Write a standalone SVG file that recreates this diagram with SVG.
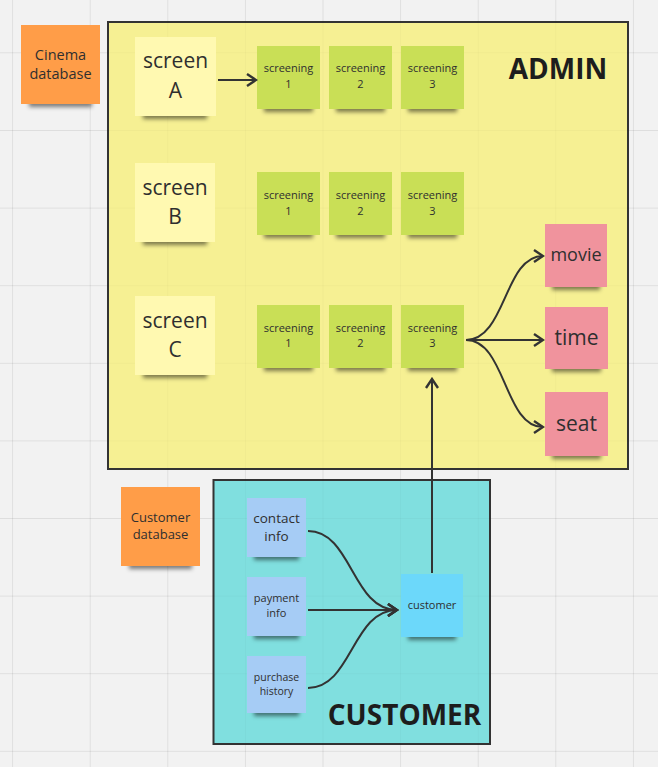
<svg xmlns="http://www.w3.org/2000/svg" width="658" height="767" viewBox="0 0 658 767">
<style>
  text { font-family: "Open Sans", "Noto Sans", "DejaVu Sans", sans-serif; fill: #2f2f2f; text-anchor: middle; }
  .grid line { stroke: #000; stroke-width: 1; }
  .frame { stroke: #333; stroke-width: 2; }
  .shadow { fill: #000; fill-opacity: 0.5; filter: url(#blur); }
  .conn { fill: none; stroke: #333; stroke-width: 2; marker-end: url(#arr); }
  .title { font-weight: 700; fill: #1d1d1d; font-size: 28px; }
  .orange { fill: #ff9d48; }
  .lyellow { fill: #fff9b1; }
  .green { fill: #c9df56; }
  .red { fill: #f0939d; }
  .lblue { fill: #a6ccf5; }
  .blue { fill: #6cd8fa; }
</style>
<defs>
  <filter id="blur" x="-20%" y="-100%" width="140%" height="300%">
    <feGaussianBlur stdDeviation="2.2"/>
  </filter>
  <marker id="arr" markerUnits="userSpaceOnUse" markerWidth="14" markerHeight="14" viewBox="-12 -7 14 14" refX="0" refY="0" orient="auto">
    <path d="M-9,-6 L0,0 L-9,6" fill="none" stroke="#333" stroke-width="2.4" stroke-linejoin="miter"/>
  </marker>
  <g id="gridlines">
    <line x1="12.6" y1="0" x2="12.6" y2="767"/>
    <line x1="90.2" y1="0" x2="90.2" y2="767"/>
    <line x1="167.8" y1="0" x2="167.8" y2="767"/>
    <line x1="245.4" y1="0" x2="245.4" y2="767"/>
    <line x1="323" y1="0" x2="323" y2="767"/>
    <line x1="400.6" y1="0" x2="400.6" y2="767"/>
    <line x1="478.2" y1="0" x2="478.2" y2="767"/>
    <line x1="555.8" y1="0" x2="555.8" y2="767"/>
    <line x1="633.4" y1="0" x2="633.4" y2="767"/>
    <line x1="0" y1="52.8" x2="658" y2="52.8"/>
    <line x1="0" y1="130.5" x2="658" y2="130.5"/>
    <line x1="0" y1="208.1" x2="658" y2="208.1"/>
    <line x1="0" y1="285.7" x2="658" y2="285.7"/>
    <line x1="0" y1="363.3" x2="658" y2="363.3"/>
    <line x1="0" y1="440.9" x2="658" y2="440.9"/>
    <line x1="0" y1="518.5" x2="658" y2="518.5"/>
    <line x1="0" y1="596.1" x2="658" y2="596.1"/>
    <line x1="0" y1="673.7" x2="658" y2="673.7"/>
    <line x1="0" y1="751.3" x2="658" y2="751.3"/>
  </g>
</defs>

<rect x="0" y="0" width="658" height="767" fill="#f2f2f2"/>
<g class="grid" stroke-opacity="0.055"><use href="#gridlines" stroke="#000" stroke-opacity="0.055"/></g>

<!-- frames -->
<g id="admin-frame">
  <rect class="frame" x="108" y="22" width="520" height="447" fill="#f6f093"/>
</g>
<g id="customer-frame">
  <rect class="frame" x="213.5" y="480" width="276.5" height="264" fill="#80dfdf"/>
</g>
<g class="grid"><use href="#gridlines" stroke="#000" stroke-opacity="0.022"/></g>

<text class="title" x="558" y="79">ADMIN</text>
<text class="title" x="404.5" y="725">CUSTOMER</text>

<!-- nodes -->
<g id="cinema-db">
  <rect class="shadow" x="29" y="100" width="63" height="7"/>
  <rect class="orange" x="21" y="25" width="79" height="79"/>
  <text x="60.5" y="59.5" font-size="14.5">Cinema</text>
  <text x="60.5" y="79" font-size="14.5">database</text>
</g>
<g id="customer-db">
  <rect class="shadow" x="129" y="562" width="63" height="7"/>
  <rect class="orange" x="121" y="487" width="79" height="79"/>
  <text x="160.5" y="521.5" font-size="13">Customer</text>
  <text x="160.5" y="539" font-size="13">database</text>
</g>

<g id="screen-a">
  <rect class="shadow" x="143" y="112" width="64" height="7"/>
  <rect class="lyellow" x="135" y="37" width="81" height="79"/>
  <text x="175.5" y="68" font-size="21">screen</text>
  <text x="175.5" y="98" font-size="21">A</text>
</g>
<g id="screen-b">
  <rect class="shadow" x="143" y="238" width="64" height="7"/>
  <rect class="lyellow" x="135" y="163" width="80" height="79"/>
  <text x="175" y="195" font-size="21">screen</text>
  <text x="175" y="224" font-size="21">B</text>
</g>
<g id="screen-c">
  <rect class="shadow" x="143" y="371" width="64" height="7"/>
  <rect class="lyellow" x="135" y="296" width="80" height="79"/>
  <text x="175" y="328" font-size="21">screen</text>
  <text x="175" y="357" font-size="21">C</text>
</g>

<g id="a-screening-1">
  <rect class="shadow" x="264" y="105" width="49" height="7"/>
  <rect class="green" x="257" y="46" width="63" height="63"/>
  <text x="288.5" y="72" font-size="11">screening</text>
  <text x="288.5" y="88" font-size="11">1</text>
</g>
<g id="a-screening-2">
  <rect class="shadow" x="336" y="105" width="49" height="7"/>
  <rect class="green" x="329" y="46" width="63" height="63"/>
  <text x="360.5" y="72" font-size="11">screening</text>
  <text x="360.5" y="88" font-size="11">2</text>
</g>
<g id="a-screening-3">
  <rect class="shadow" x="408" y="105" width="49" height="7"/>
  <rect class="green" x="401" y="46" width="63" height="63"/>
  <text x="432.5" y="72" font-size="11">screening</text>
  <text x="432.5" y="88" font-size="11">3</text>
</g>

<g id="b-screening-1">
  <rect class="shadow" x="264" y="231" width="49" height="7"/>
  <rect class="green" x="257" y="172" width="63" height="63"/>
  <text x="288.5" y="199" font-size="11">screening</text>
  <text x="288.5" y="215" font-size="11">1</text>
</g>
<g id="b-screening-2">
  <rect class="shadow" x="336" y="231" width="49" height="7"/>
  <rect class="green" x="329" y="172" width="63" height="63"/>
  <text x="360.5" y="199" font-size="11">screening</text>
  <text x="360.5" y="215" font-size="11">2</text>
</g>
<g id="b-screening-3">
  <rect class="shadow" x="408" y="231" width="49" height="7"/>
  <rect class="green" x="401" y="172" width="63" height="63"/>
  <text x="432.5" y="199" font-size="11">screening</text>
  <text x="432.5" y="215" font-size="11">3</text>
</g>

<g id="c-screening-1">
  <rect class="shadow" x="264" y="364" width="49" height="7"/>
  <rect class="green" x="257" y="305" width="63" height="63"/>
  <text x="288.5" y="332" font-size="11">screening</text>
  <text x="288.5" y="347" font-size="11">1</text>
</g>
<g id="c-screening-2">
  <rect class="shadow" x="336" y="364" width="49" height="7"/>
  <rect class="green" x="329" y="305" width="63" height="63"/>
  <text x="360.5" y="332" font-size="11">screening</text>
  <text x="360.5" y="347" font-size="11">2</text>
</g>
<g id="c-screening-3">
  <rect class="shadow" x="408" y="364" width="49" height="7"/>
  <rect class="green" x="401" y="305" width="63" height="63"/>
  <text x="432.5" y="332" font-size="11">screening</text>
  <text x="432.5" y="347" font-size="11">3</text>
</g>

<g id="movie">
  <rect class="shadow" x="552" y="283" width="48" height="7"/>
  <rect class="red" x="545" y="224" width="62" height="63"/>
  <text x="576" y="261" font-size="18">movie</text>
</g>
<g id="time">
  <rect class="shadow" x="552" y="365" width="49" height="7"/>
  <rect class="red" x="545" y="307" width="63" height="62"/>
  <text x="576.5" y="345" font-size="21">time</text>
</g>
<g id="seat">
  <rect class="shadow" x="552" y="452" width="49" height="7"/>
  <rect class="red" x="545" y="392" width="63" height="64"/>
  <text x="576.5" y="431" font-size="21">seat</text>
</g>

<g id="contact-info">
  <rect class="shadow" x="254" y="553" width="45" height="7"/>
  <rect class="lblue" x="247" y="498" width="59" height="59"/>
  <text x="276.5" y="523" font-size="13.5">contact</text>
  <text x="276.5" y="541" font-size="13.5">info</text>
</g>
<g id="payment-info">
  <rect class="shadow" x="254" y="632" width="45" height="7"/>
  <rect class="lblue" x="247" y="577" width="59" height="59"/>
  <text x="276.5" y="602" font-size="11">payment</text>
  <text x="276.5" y="617" font-size="11">info</text>
</g>
<g id="purchase-history">
  <rect class="shadow" x="254" y="709" width="45" height="7"/>
  <rect class="lblue" x="247" y="656" width="59" height="57"/>
  <text x="276.5" y="681" font-size="10.5">purchase</text>
  <text x="276.5" y="695" font-size="10.5">history</text>
</g>
<g id="customer">
  <rect class="shadow" x="408" y="633" width="48" height="7"/>
  <rect class="blue" x="401" y="574" width="62" height="63"/>
  <text x="432" y="609" font-size="11">customer</text>
</g>

<!-- connectors -->
<g id="connectors">
  <path class="conn" d="M218,80 L256,80"/>
  <path class="conn" d="M466,340 C506,340 504,256 543,256"/>
  <path class="conn" d="M466,340 L543,340"/>
  <path class="conn" d="M466,340 C506,340 504,427 543,427"/>
  <path class="conn" d="M432,573 L432,379"/>
  <path class="conn" d="M308,531 C352,531 352,610 397,610"/>
  <path class="conn" d="M308,610 L397,610"/>
  <path class="conn" d="M308,688 C352,688 352,610 397,610"/>
</g>
</svg>
